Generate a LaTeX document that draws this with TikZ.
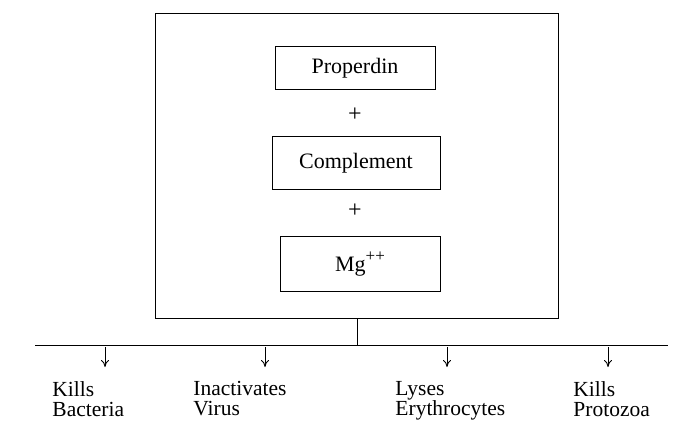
\documentclass[tikz,border=0pt]{standalone}
\usepackage{fontspec}
\setmainfont{Liberation Serif}
\usetikzlibrary{arrows.meta}
\begin{document}
\begin{tikzpicture}[x=1pt,y=-1pt,
  line width=0.9pt,
  box/.style={draw, rectangle, inner sep=0pt, font=\fontsize{22}{22}\selectfont},
  lbl/.style={anchor=north west, align=left, inner sep=0pt, font=\fontsize{21.5}{20}\selectfont},
  plus/.style={font=\fontsize{24}{24}\selectfont, inner sep=0pt},
  arr/.style={-{To[length=7pt,width=8pt]}, line width=0.9pt}]
\useasboundingbox (0,0) rectangle (698,432);
\node[draw, rectangle, minimum width=403pt, minimum height=305pt] (outer) at (356.5,165.5) {};
\node[box, minimum width=160pt, minimum height=43pt] (prop) at (355,68) {Properdin};
\node[plus] (p1) at (355,115) {+};
\node[box, minimum width=168pt, minimum height=53pt] (comp) at (356,163) {Complement};
\node[plus] (p2) at (355,211) {+};
\node[box, minimum width=160pt, minimum height=55pt] (mg) at (360,264) {Mg\raisebox{0.42em}{\fontsize{17}{17}\selectfont ++}};
\coordinate (stem) at (357,345);
\coordinate (hl) at (35,345);
\coordinate (hr) at (668,345);
\draw (outer.south -| stem) -- (stem);
\draw (hl) -- (hr);
\foreach \n/\x in {a/105,b/265,c/447,d/608}{
  \coordinate (s\n) at (\x,347);
  \coordinate (e\n) at (\x,367);
  \draw[arr] (s\n) -- (e\n);
}
\node[lbl] (l1) at (52,381) {Kills\\Bacteria};
\node[lbl] (l2) at (193,381) {Inactivates\\Virus};
\node[lbl] (l3) at (395,381) {Lyses\\Erythrocytes};
\node[lbl] (l4) at (573,381) {Kills\\Protozoa};
\end{tikzpicture}
\end{document}
